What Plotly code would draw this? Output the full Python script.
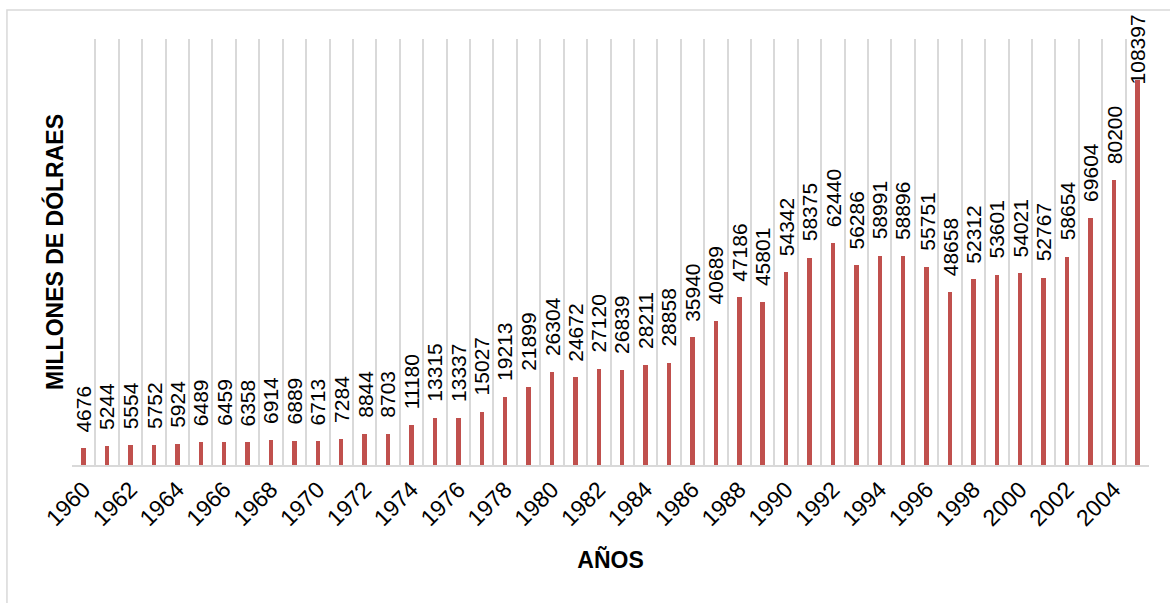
import plotly.graph_objects as go

years = list(range(1960, 2006))
values = [4676, 5244, 5554, 5752, 5924, 6489, 6459, 6358, 6914, 6889,
          6713, 7284, 8844, 8703, 11180, 13315, 13337, 15027, 19213, 21899,
          26304, 24672, 27120, 26839, 28211, 28858, 35940, 40689, 47186, 45801,
          54342, 58375, 62440, 56286, 58991, 58896, 55751, 48658, 52312, 53601,
          54021, 52767, 58654, 69604, 80200, 108397]
tick_years = list(range(1960, 2006, 2))

bar_color = "#C0504D"
grid_color = "#D9D9D9"
font_family = "Liberation Sans, Arial, sans-serif"

fig = go.Figure()
fig.add_trace(go.Bar(
    x=years, y=values, width=0.19,
    marker=dict(color=bar_color, line=dict(width=0)),
    hoverinfo="x+y",
))

# value labels, written vertically above each bar
annotations = []
for i, (yr, v) in enumerate(zip(years, values)):
    shift = 14 if i < len(values) - 1 else -6
    annotations.append(dict(
        x=yr, y=v, xref="x", yref="y", text=str(v), textangle=-90,
        showarrow=False, yanchor="bottom", xanchor="center", yshift=shift,
        font=dict(family=font_family, size=21, color="#000000"),
    ))

fig.update_layout(
    width=1170, height=603,
    margin=dict(l=72, r=21, t=39, b=138),
    paper_bgcolor="white", plot_bgcolor="white",
    showlegend=False, bargap=0,
    font=dict(family=font_family, color="#000000"),
    annotations=annotations,
    shapes=[dict(type="rect", xref="paper", yref="paper",
                 x0=-0.0604, x1=1.5, y0=-1.0, y1=1.068,
                 line=dict(color=grid_color, width=1.5), fillcolor="rgba(0,0,0,0)",
                 layer="below")],
    xaxis=dict(
        range=[1959.5, 2005.5],
        tickmode="array", tickvals=tick_years, ticktext=[str(t) for t in tick_years],
        tickangle=-45, tickfont=dict(size=23, family=font_family),
        showgrid=False, ticks="", zeroline=False,
        showline=True, linecolor=grid_color, linewidth=2,
        minor=dict(tick0=1959.5, dtick=1, showgrid=True,
                   gridcolor=grid_color, gridwidth=2, ticks=""),
        title=dict(text="<b>AÑOS</b>", font=dict(size=23, family=font_family), standoff=22),
    ),
    yaxis=dict(
        range=[0, 120000], showgrid=False, zeroline=False,
        showticklabels=False, ticks="",
        title=dict(text="<b>MILLONES DE DÓLRAES</b>", font=dict(size=23, family=font_family), standoff=0),
    ),
)

fig.write_html("out.html")
